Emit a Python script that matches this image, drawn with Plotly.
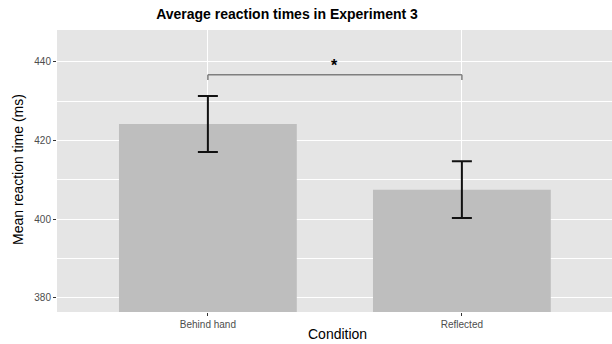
import plotly.graph_objects as go

conditions = ["Behind hand", "Reflected"]
means = [424.2, 407.5]
errors = [7.1, 7.2]
bracket_y = 436.7
bracket_tip = 1.3
sig_label = "*"
y_ticks = [380, 400, 420, 440]

W, H = 612, 344
L, R, T, B = 57, 0, 30, 32

fig = go.Figure()
fig.add_trace(go.Bar(
    x=conditions, y=means, width=0.7,
    marker=dict(color="#BEBEBE", line=dict(width=0)),
    error_y=dict(type="data", array=errors, visible=True, color="#111111",
                 thickness=2, width=10),
    showlegend=False, hoverinfo="skip",
))

# significance bracket
fig.add_shape(type="line", xref="x", yref="y", x0=0, x1=1, y0=bracket_y, y1=bracket_y,
              line=dict(color="#7F7F7F", width=1.5))
for c in [0, 1]:
    fig.add_shape(type="line", xref="x", yref="y", x0=c, x1=c,
                  y0=bracket_y, y1=bracket_y - bracket_tip,
                  line=dict(color="#7F7F7F", width=1.5))
fig.add_annotation(x=0.5, y=bracket_y - 0.4, xref="x", yref="y", text="<b>" + sig_label + "</b>",
                   showarrow=False, yanchor="bottom",
                   font=dict(size=16, color="black", family="Liberation Sans"))

# axis titles as paper annotations
fig.add_annotation(text="Condition", xref="paper", yref="paper",
                   x=(337 - L) / (W - L - R), y=-(334 - (H - B)) / (H - T - B),
                   xanchor="center", yanchor="middle", showarrow=False,
                   font=dict(size=14, color="black"))
fig.add_annotation(text="Mean reaction time (ms)", xref="paper", yref="paper",
                   x=-(L - 18) / (W - L - R), y=((H - B) - 170) / (H - T - B),
                   xanchor="center", yanchor="middle", showarrow=False, textangle=-90,
                   font=dict(size=14, color="black"))

fig.update_layout(
    width=W, height=H,
    margin=dict(l=L, r=R, t=T, b=B, autoexpand=False),
    paper_bgcolor="white", plot_bgcolor="#E5E5E5",
    font=dict(family="Liberation Sans", color="black"),
    title=dict(text="<b>Average reaction times in Experiment 3</b>",
               x=287/612, xanchor="center", y=1-14/344, yanchor="middle",
               font=dict(size=14, color="black")),
    bargap=0.3,
)
fig.update_xaxes(
    range=[-0.594, 1.591], showgrid=True, gridcolor="white", gridwidth=1,
    ticks="outside", ticklen=3, tickcolor="#333333",
    tickfont=dict(size=10, color="#4D4D4D"), automargin=False,
    zeroline=False, showline=False,
)
fig.update_yaxes(
    range=[376.4, 448.1], tickvals=y_ticks, showgrid=True, gridcolor="white", gridwidth=1,
    minor=dict(dtick=10, tick0=380, showgrid=True, gridcolor="white", gridwidth=0.5, ticks=""),
    ticks="outside", ticklen=3, tickcolor="#333333",
    tickfont=dict(size=10, color="#4D4D4D"), automargin=False,
    zeroline=False, showline=False,
)

fig.write_html("out.html", config={"displayModeBar": False},
               post_script="document.body.style.margin='0';document.body.style.overflow='hidden';")
